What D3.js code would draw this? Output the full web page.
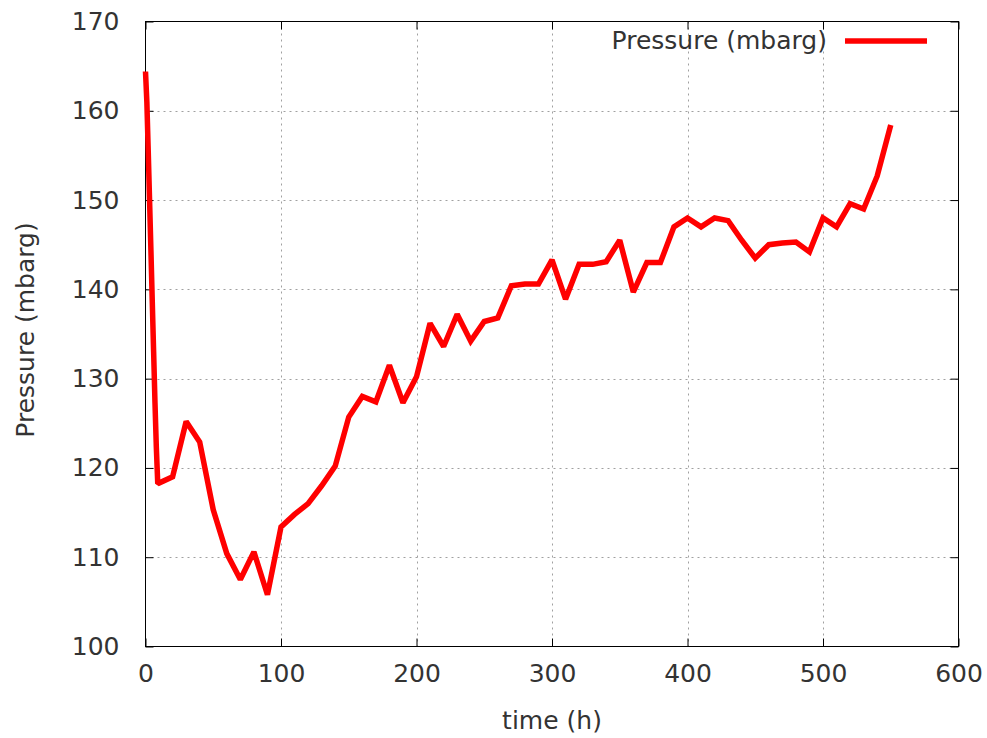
<!DOCTYPE html>
<html>
<head>
<meta charset="utf-8">
<script src="https://cdn.jsdelivr.net/npm/d3@7"></script>
<style>
  html, body { margin: 0; padding: 0; background: #fff; }
  svg { display: block; }
  text { font-family: "DejaVu Sans", sans-serif; fill: #333; }
</style>
</head>
<body>
<svg id="chart" width="987" height="738"></svg>
<script>
const timeH = [0,1,2,3,4,5,6,7,8,9,10,20,30,40,50,60,70,80,90,100,110,120,130,140,150,160,170,180,190,200,210,220,230,240,250,260,270,280,290,300,310,320,330,340,350,360,370,380,390,400,410,420,430,440,450,460,470,480,490,500,510,520,530,540,550];
const pressure = [164.4,161.0,155.6,150.0,144.4,138.6,133.0,127.3,122.3,118.4,118.3,119.0,125.2,122.9,115.3,110.4,107.5,110.6,105.8,113.4,114.8,116.0,118.0,120.2,125.7,128.0,127.4,131.5,127.3,130.2,136.2,133.6,137.2,134.2,136.4,136.8,140.4,140.6,140.6,143.3,138.9,142.8,142.8,143.1,145.5,139.7,143.0,143.0,147.0,148.0,147.0,148.0,147.7,145.5,143.5,145.0,145.2,145.3,144.2,148.0,147.0,149.6,149.0,152.7,158.4];
const xTicks = [0,100,200,300,400,500,600];
const yTicks = [100,110,120,130,140,150,160,170];
const seriesName = "Pressure (mbarg)";
const xTitle = "time (h)";
const yTitle = "Pressure (mbarg)";

const svg = d3.select("#chart");
const L = 145.5, R = 958.5, T = 21.5, B = 646.5;
const x = d3.scaleLinear().domain([0, 600]).range([L, R]);
const y = d3.scaleLinear().domain([100, 170]).range([B, T]);
const fs = 25;

// grid
const grid = svg.append("g").attr("stroke", "#a0a0a0").attr("stroke-width", 1).attr("stroke-dasharray", "2,4");
grid.selectAll("line.v").data(xTicks.filter(d => d > 0 && d < 600)).join("line")
  .attr("x1", d => Math.round(x(d)) + 0.5).attr("x2", d => Math.round(x(d)) + 0.5)
  .attr("y1", T).attr("y2", B);
grid.selectAll("line.h").data(yTicks.filter(d => d > 100 && d < 170)).join("line")
  .attr("y1", d => Math.round(y(d)) + 0.5).attr("y2", d => Math.round(y(d)) + 0.5)
  .attr("x1", L).attr("x2", R);

// axes with inward ticks
const tl = 8;
const xAxisB = d3.axisBottom(x).tickValues(xTicks).tickSizeInner(-tl).tickSizeOuter(0).tickPadding(18);
const xAxisT = d3.axisTop(x).tickValues(xTicks).tickSizeInner(-tl).tickSizeOuter(0).tickFormat("");
const yAxisL = d3.axisLeft(y).tickValues(yTicks).tickSizeInner(-tl).tickSizeOuter(0).tickPadding(26);
const yAxisR = d3.axisRight(y).tickValues(yTicks).tickSizeInner(-tl).tickSizeOuter(0).tickFormat("");

function style(g) {
  g.select(".domain").remove();
  g.selectAll(".tick line").attr("stroke", "#000").attr("stroke-width", 1);
  g.selectAll(".tick text").attr("font-size", fs).attr("font-family", "DejaVu Sans, sans-serif").attr("fill", "#333");
}
svg.append("g").attr("transform", `translate(0,${B})`).call(xAxisB).call(style);
svg.append("g").attr("transform", `translate(0,${T})`).call(xAxisT).call(style);
svg.append("g").attr("transform", `translate(${L},0)`).call(yAxisL).call(style);
svg.append("g").attr("transform", `translate(${R},0)`).call(yAxisR).call(style);

// frame
svg.append("rect").attr("x", L).attr("y", T).attr("width", R - L).attr("height", B - T)
  .attr("fill", "none").attr("stroke", "#000").attr("stroke-width", 1);

// line
const line = d3.line().x((d, i) => x(timeH[i])).y(d => y(d));
svg.append("path").datum(pressure).attr("d", line)
  .attr("fill", "none").attr("stroke", "#ff0000").attr("stroke-width", 5.5)
  .attr("stroke-linejoin", "miter").attr("stroke-miterlimit", 2);

// legend
svg.append("text").attr("x", 827).attr("y", 49).attr("text-anchor", "end")
  .attr("font-size", fs).text(seriesName);
svg.append("line").attr("x1", 845).attr("x2", 927).attr("y1", 41).attr("y2", 41)
  .attr("stroke", "#ff0000").attr("stroke-width", 5.5);

// titles
svg.append("text").attr("x", (L + R) / 2).attr("y", 729).attr("text-anchor", "middle")
  .attr("font-size", fs).text(xTitle);
svg.append("text").attr("transform", `translate(34,${(T + B) / 2 - 4}) rotate(-90)`)
  .attr("text-anchor", "middle").attr("font-size", fs).text(yTitle);
</script>
</body>
</html>
